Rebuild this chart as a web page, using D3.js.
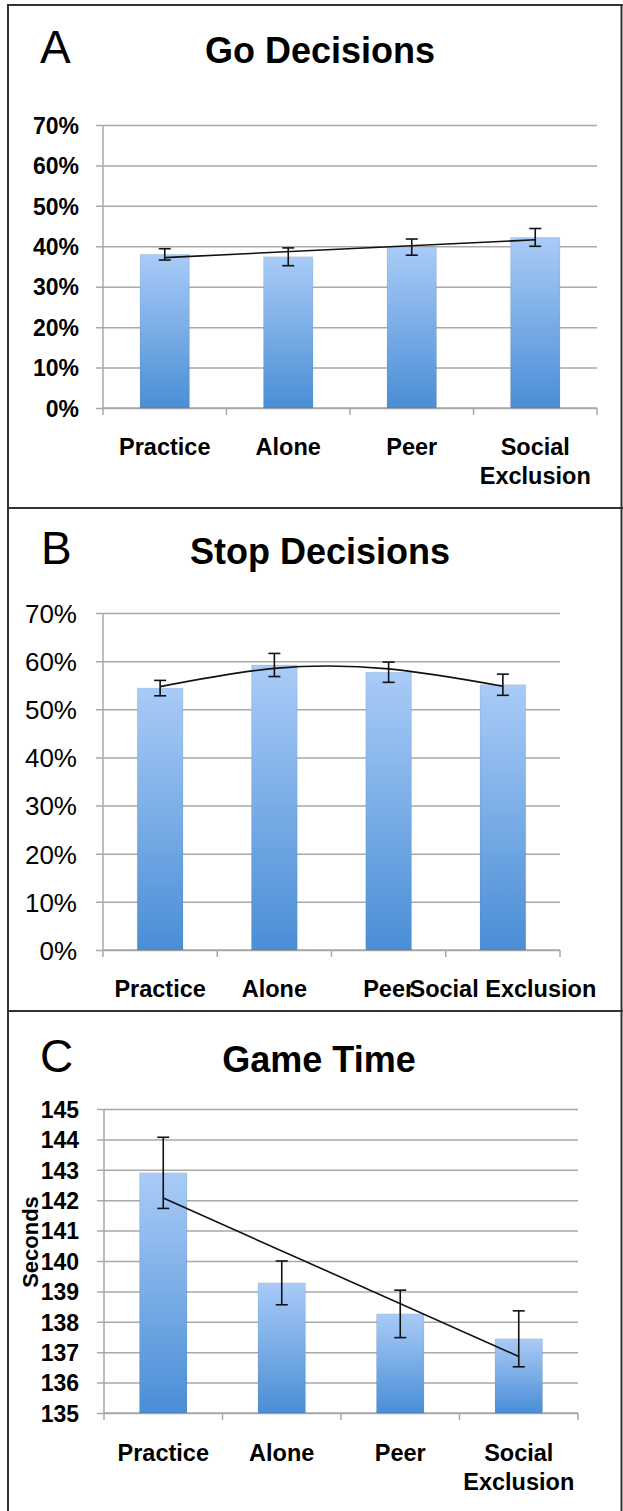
<!DOCTYPE html>
<html>
<head>
<meta charset="utf-8">
<script src="https://cdn.jsdelivr.net/npm/d3@7"></script>
<style>
  html, body { margin: 0; padding: 0; background: #fff; }
  svg { display: block; }
  text { font-family: "Liberation Sans", Arial, Helvetica, sans-serif; fill: #000; }
</style>
</head>
<body>
<svg id="chart" width="623" height="1511"></svg>
<script>
// ---------- data ----------
const categories = ["Practice", "Alone", "Peer", "Social Exclusion"];

// Panel A: Go Decisions (%)
const goValues = [38.0, 37.4, 39.8, 42.2];
const goErrors = [1.4, 2.2, 2.0, 2.2];
const goTrend = [37.2, 41.6];          // linear trend at first / last category

// Panel B: Stop Decisions (%)
const stopValues = [54.4, 59.2, 57.7, 55.1];
const stopErrors = [1.6, 2.4, 2.1, 2.2];
const stopTrend = [54.7, 58.5, 58.4, 54.8]; // polynomial trend read at each category

// Panel C: Game Time (seconds)
const timeValues = [142.9, 139.28, 138.26, 137.44];
const timeErrors = [1.17, 0.72, 0.78, 0.92];
const timeTrend = [142.07, 136.86];

const pctTicks = [0, 10, 20, 30, 40, 50, 60, 70];
const secTicks = [135, 136, 137, 138, 139, 140, 141, 142, 143, 144, 145];

// ---------- drawing ----------
const svg = d3.select("#chart");
const defs = svg.append("defs");
const grad = defs.append("linearGradient").attr("id", "barGrad")
  .attr("x1", 0).attr("y1", 0).attr("x2", 0).attr("y2", 1);
grad.append("stop").attr("offset", "0%").attr("stop-color", "#a9cbf7");
grad.append("stop").attr("offset", "100%").attr("stop-color", "#4a8ed6");

// frame
const FRAME = "#333";
svg.append("line").attr("x1", 8).attr("x2", 8).attr("y1", 4).attr("y2", 1511).attr("stroke", FRAME).attr("stroke-width", 2);
svg.append("line").attr("x1", 621.5).attr("x2", 621.5).attr("y1", 4).attr("y2", 1511).attr("stroke", FRAME).attr("stroke-width", 2);
[5, 508, 1011].forEach(y => svg.append("line").attr("x1", 7).attr("x2", 623)
  .attr("y1", y).attr("y2", y).attr("stroke", FRAME).attr("stroke-width", 2));

const GRID = "#a9a9a9";

function panel(cfg) {
  const g = svg.append("g");
  const x = d3.scaleBand().domain(categories).range([cfg.x0, cfg.x1]).paddingInner(0).paddingOuter(0);
  const y = d3.scaleLinear().domain(cfg.domain).range([cfg.yBottom, cfg.yTop]);
  const bw = x.bandwidth() * 0.4;
  const cx = c => x(c) + x.bandwidth() / 2;

  // letter + title
  g.append("text").attr("x", cfg.letterX).attr("y", cfg.titleY)
    .attr("font-size", 46).text(cfg.letter);
  g.append("text").attr("x", cfg.titleX).attr("y", cfg.titleY)
    .attr("text-anchor", "middle").attr("font-size", 36).attr("font-weight", "bold")
    .text(cfg.title);

  // gridlines via axis
  const yAxis = d3.axisLeft(y).tickValues(cfg.ticks).tickSize(-(cfg.x1 - cfg.x0)).tickFormat("");
  const ga = g.append("g").attr("transform", `translate(${cfg.x0},0)`).call(yAxis);
  ga.select(".domain").remove();
  ga.selectAll(".tick line").attr("stroke", GRID).attr("stroke-width", 1.5).attr("x1", -7);

  // y tick labels
  g.selectAll(".ylab").data(cfg.ticks).enter().append("text")
    .attr("x", cfg.labelRight).attr("y", d => y(d)).attr("dy", "0.38em")
    .attr("text-anchor", "end").attr("font-size", cfg.yFont)
    .attr("font-weight", cfg.yBold ? "bold" : "normal")
    .text(cfg.fmt);

  // y axis line
  g.append("line").attr("x1", cfg.x0).attr("x2", cfg.x0).attr("y1", cfg.yTop).attr("y2", cfg.yBottom)
    .attr("stroke", GRID).attr("stroke-width", 1.5);

  // x axis with ticks at band boundaries
  g.append("line").attr("x1", cfg.x0).attr("x2", cfg.x1).attr("y1", cfg.yBottom).attr("y2", cfg.yBottom)
    .attr("stroke", GRID).attr("stroke-width", 1.5);
  const bounds = categories.map(c => x(c)).concat([cfg.x1]);
  g.selectAll(".xt").data(bounds).enter().append("line")
    .attr("x1", d => d).attr("x2", d => d).attr("y1", cfg.yBottom).attr("y2", cfg.yBottom + 7)
    .attr("stroke", GRID).attr("stroke-width", 1.5);

  // bars
  g.selectAll(".bar").data(cfg.values).enter().append("rect")
    .attr("x", (d, i) => cx(categories[i]) - bw / 2)
    .attr("y", d => y(d)).attr("width", bw).attr("height", d => cfg.yBottom - y(d))
    .attr("fill", "url(#barGrad)").attr("stroke", "rgba(0,0,0,0.08)").attr("stroke-width", 1);

  // trend
  let pts;
  if (cfg.trend.length === 2) {
    pts = [[cx(categories[0]), y(cfg.trend[0])], [cx(categories[categories.length - 1]), y(cfg.trend[1])]];
  } else {
    pts = cfg.trend.map((v, i) => [cx(categories[i]), y(v)]);
  }
  g.append("path").attr("d", d3.line().curve(d3.curveNatural)(pts))
    .attr("fill", "none").attr("stroke", "#111").attr("stroke-width", 1.6);

  // error bars
  cfg.values.forEach((v, i) => {
    const c = cx(categories[i]);
    const e = cfg.errors[i];
    const eg = g.append("g").attr("stroke", "#111").attr("stroke-width", 1.6);
    eg.append("line").attr("x1", c).attr("x2", c).attr("y1", y(v + e)).attr("y2", y(v - e));
    eg.append("line").attr("x1", c - 6).attr("x2", c + 6).attr("y1", y(v + e)).attr("y2", y(v + e));
    eg.append("line").attr("x1", c - 6).attr("x2", c + 6).attr("y1", y(v - e)).attr("y2", y(v - e));
  });

  // category labels
  categories.forEach(c => {
    const lines = cfg.wrap ? c.split(" ") : [c];
    const t = g.append("text").attr("x", cx(c)).attr("y", cfg.catY)
      .attr("text-anchor", "middle").attr("font-size", 23.5).attr("font-weight", "bold");
    lines.forEach((ln, k) => t.append("tspan").attr("x", cx(c)).attr("dy", k === 0 ? 0 : 28.5).text(ln));
  });

  if (cfg.yTitle) {
    g.append("text").attr("transform", `translate(${cfg.yTitle.x},${cfg.yTitle.y}) rotate(-90)`)
      .attr("text-anchor", "middle").attr("font-size", 22).attr("font-weight", "bold")
      .text(cfg.yTitle.text);
  }
}

panel({
  letter: "A", title: "Go Decisions", letterX: 40, titleX: 320, titleY: 63,
  x0: 103, x1: 597, yTop: 125, yBottom: 408, domain: [0, 70], ticks: pctTicks,
  fmt: d => d + "%", labelRight: 79, yFont: 23, yBold: true,
  values: goValues, errors: goErrors, trend: goTrend, catY: 455, wrap: true
});

panel({
  letter: "B", title: "Stop Decisions", letterX: 41, titleX: 320, titleY: 564,
  x0: 103, x1: 560, yTop: 613, yBottom: 950, domain: [0, 70], ticks: pctTicks,
  fmt: d => d + "%", labelRight: 77, yFont: 26, yBold: false,
  values: stopValues, errors: stopErrors, trend: stopTrend, catY: 997, wrap: false
});

panel({
  letter: "C", title: "Game Time", letterX: 40, titleX: 319, titleY: 1072,
  x0: 104, x1: 578, yTop: 1109, yBottom: 1413, domain: [135, 145], ticks: secTicks,
  fmt: d => d, labelRight: 79, yFont: 23, yBold: true,
  values: timeValues, errors: timeErrors, trend: timeTrend, catY: 1461, wrap: true,
  yTitle: { text: "Seconds", x: 38, y: 1242 }
});
</script>
</body>
</html>
